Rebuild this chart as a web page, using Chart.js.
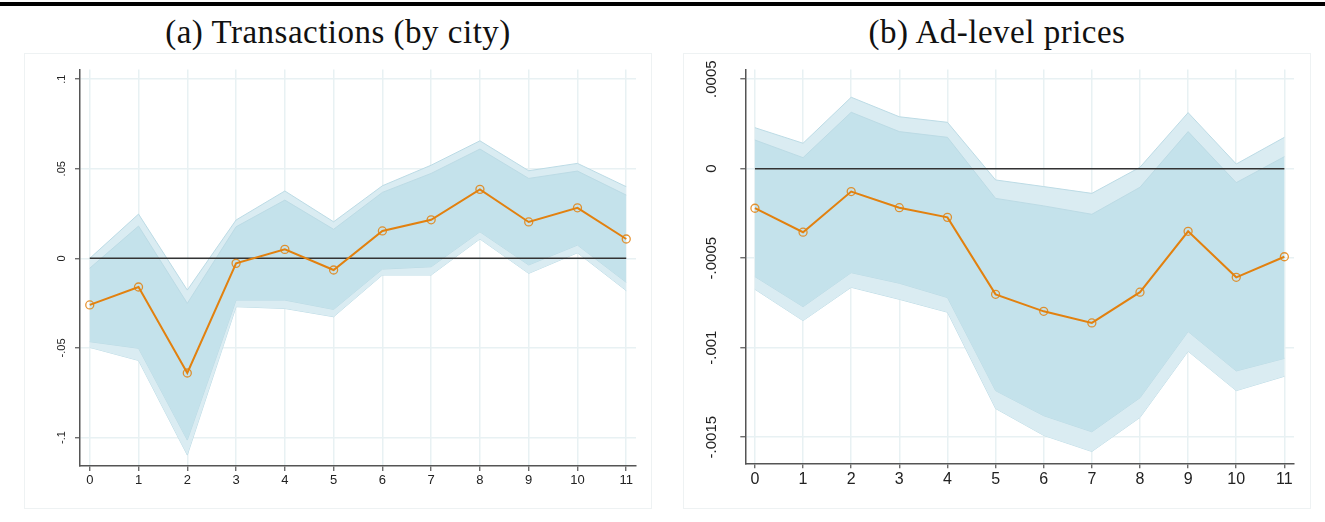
<!DOCTYPE html>
<html lang="en">
<head>
  <meta charset="UTF-8" />
  <title>Event study: transactions and ad-level prices</title>
  <script src="https://cdn.jsdelivr.net/npm/chart.js@4"></script>
  <style>
    body {
      margin: 0;
      width: 1325px;
      height: 522px;
      background: #fff;
      overflow: hidden;
      position: relative;
      font-family: 'Liberation Sans', Arial, sans-serif;
    }
    .rule {
      position: absolute;
      left: 0; top: 2px;
      width: 1325px; height: 4px;
      background: #000;
    }
    .title {
      position: absolute;
      top: 12px;
      width: 628px;
      text-align: center;
      font-family: 'Liberation Serif', 'Times New Roman', serif;
      font-size: 33px;
      letter-spacing: 0.5px;
      line-height: 40px;
      color: #111;
    }
    .frame {
      position: absolute;
      top: 53px;
      width: 628px; height: 456px;
      box-sizing: border-box;
      border: 1px solid #eef2f3;
    }
    canvas { position: absolute; top: 53px; }
  </style>
</head>
<body>
  <div class="rule"></div>

  <div class="title" style="left:24px">(a) Transactions (by city)</div>
  <div class="title" style="left:683px">(b) Ad-level prices</div>

  <div class="frame" style="left:24px"></div>
  <div class="frame" style="left:683px"></div>
  <canvas id="txChart" width="628" height="456" style="left:24px"></canvas>
  <canvas id="adChart" width="628" height="456" style="left:683px"></canvas>

  <script>
    // event time (x axis)
    const periods = [0, 1, 2, 3, 4, 5, 6, 7, 8, 9, 10, 11];
    const periodLabels = ['0', '1', '2', '3', '4', '5', '6', '7', '8', '9', '10', '11'];

    // (a) transactions by city: point estimates and 90% / 95% bands
    const txEst  = [-0.026, -0.016, -0.064, -0.0028, 0.005, -0.0065, 0.0153, 0.0215, 0.0385, 0.0203, 0.0282, 0.0108];
    const txHi90 = [-0.0055, 0.018, -0.0251, 0.0176, 0.0325, 0.0162, 0.0368, 0.0474, 0.061, 0.0446, 0.0487, 0.0353];
    const txLo90 = [-0.0465, -0.0502, -0.1014, -0.0233, -0.0233, -0.0285, -0.006, -0.0047, 0.0148, -0.0037, 0.0074, -0.0134];
    const txHi95 = [0.0, 0.0247, -0.0177, 0.0214, 0.0376, 0.0204, 0.0405, 0.052, 0.0656, 0.0489, 0.053, 0.040];
    const txLo95 = [-0.0497, -0.057, -0.1098, -0.027, -0.028, -0.0326, -0.0093, -0.0093, 0.0108, -0.0084, 0.0031, -0.018];
    const txTicks = [-0.1, -0.05, 0, 0.05, 0.1];
    const txTickLabels = ['-.1', '-.05', '0', '.05', '.1'];

    // (b) ad-level prices
    const adEst  = [-0.000221, -0.000355, -0.000128, -0.000218, -0.000272, -0.000702, -0.000797, -0.000862, -0.00069, -0.00035, -0.000607, -0.000492];
    const adHi90 = [0.00016, 0.0000615, 0.000315, 0.000207, 0.000175, -0.000166, -0.000208, -0.000255, -0.000104, 0.000207, -0.000078, 0.000067];
    const adLo90 = [-0.000603, -0.000771, -0.000581, -0.00064, -0.00072, -0.00124, -0.00138, -0.00147, -0.00128, -0.00091, -0.00113, -0.00106];
    const adHi95 = [0.000229, 0.000142, 0.000399, 0.00029, 0.000259, -0.000063, -0.0001, -0.000138, 0.0000078, 0.000313, 0.000026, 0.000175];
    const adLo95 = [-0.000674, -0.000849, -0.000663, -0.00073, -0.000802, -0.00134, -0.00149, -0.00158, -0.00139, -0.00102, -0.00124, -0.00116];
    const adTicks = [-0.0015, -0.001, -0.0005, 0, 0.0005];
    const adTickLabels = ['-.0015', '-.001', '-.0005', '0', '.0005'];

    const ORANGE = '#e2810f';
    const BAND_OUT = '#daecf2';
    const BAND_IN = '#c4e2eb';
    const BAND_EDGE = '#bcdbe5';
    const GRID = '#e8f1f3';
    const AXIS = '#555';

    const pts = arr => arr.map((v, i) => ({ x: periods[i], y: v }));

    // vertical y tick labels (Chart.js won't rotate labels on a vertical scale)
    const vertLabels = {
      id: 'vertLabels',
      afterDraw(chart, args, opts) {
        const s = chart.scales.y;
        const ctx = chart.ctx;
        ctx.save();
        ctx.fillStyle = '#222';
        ctx.font = opts.size + 'px "Liberation Sans", Arial, sans-serif';
        ctx.textAlign = 'center';
        ctx.textBaseline = 'middle';
        opts.values.forEach((v, i) => {
          ctx.save();
          ctx.translate(s.right - opts.offset, s.getPixelForValue(v));
          ctx.rotate(-Math.PI / 2);
          ctx.fillText(opts.labels[i], 0, 0);
          ctx.restore();
        });
        ctx.restore();
      }
    };

    function makeChart(id, est, hi90, lo90, hi95, lo95, yTicks, yLabels, cfg) {
      const bandLine = (data, order, fill, bg) => ({
        data: pts(data), order, fill, backgroundColor: bg,
        borderColor: BAND_EDGE, borderWidth: 1, pointRadius: 0, tension: 0
      });
      return new Chart(document.getElementById(id), {
        type: 'line',
        data: {
          datasets: [
            {
              data: pts(est), order: 0,
              borderColor: ORANGE, borderWidth: 2,
              pointRadius: 4, pointBorderWidth: 1.3,
              pointBorderColor: 'rgba(226,129,15,0.85)',
              pointBackgroundColor: 'rgba(0,0,0,0)', fill: false
            },
            {
              data: pts(periods.map(() => 0)), order: 1,
              borderColor: '#333', borderWidth: 1.5, pointRadius: 0, fill: false
            },
            bandLine(hi90, 2, '+1', BAND_IN),
            bandLine(lo90, 3, false, BAND_IN),
            bandLine(hi95, 4, '+1', BAND_OUT),
            bandLine(lo95, 5, false, BAND_OUT)
          ]
        },
        options: {
          responsive: false,
          animation: false,
          layout: { padding: { left: 0, top: 16.5, right: cfg.padRight, bottom: 0 } },
          plugins: {
            legend: { display: false },
            tooltip: { enabled: false },
            vertLabels: { values: yTicks, labels: yLabels, size: cfg.ySize, offset: cfg.yOffset }
          },
          scales: {
            x: {
              type: 'linear', min: -0.2, max: 11.2,
              afterBuildTicks: s => { s.ticks = periods.map(v => ({ value: v })); },
              afterFit: s => { s.height = cfg.xHeight; },
              grid: { color: GRID, lineWidth: 1.5, tickColor: AXIS, tickLength: 5, tickWidth: 1.2 },
              border: { color: AXIS, width: 1.5 },
              ticks: {
                padding: 2, color: '#222',
                font: { family: '"Liberation Sans", Arial, sans-serif', size: cfg.xSize },
                callback: v => periodLabels[periods.indexOf(v)]
              }
            },
            y: {
              min: cfg.yMin, max: cfg.yMax,
              afterBuildTicks: s => { s.ticks = yTicks.map(v => ({ value: v })); },
              afterFit: s => { s.width = cfg.yWidth; },
              grid: { color: GRID, lineWidth: 1.5, tickColor: AXIS, tickLength: 5, tickWidth: 1.2 },
              border: { color: AXIS, width: 1.5 },
              ticks: { display: false }
            }
          }
        },
        plugins: [vertLabels]
      });
    }

    makeChart('txChart', txEst, txHi90, txLo90, txHi95, txLo95, txTicks, txTickLabels, {
      yMin: -0.1159, yMax: 0.1054, yWidth: 56, padRight: 16, xHeight: 43,
      xSize: 13, ySize: 11, yOffset: 18
    });

    makeChart('adChart', adEst, adHi90, adLo90, adHi95, adLo95, adTicks, adTickLabels, {
      yMin: -0.001646, yMax: 0.000554, yWidth: 62.3, padRight: 17, xHeight: 45.7,
      xSize: 16, ySize: 15, yOffset: 33
    });
  </script>
</body>
</html>
